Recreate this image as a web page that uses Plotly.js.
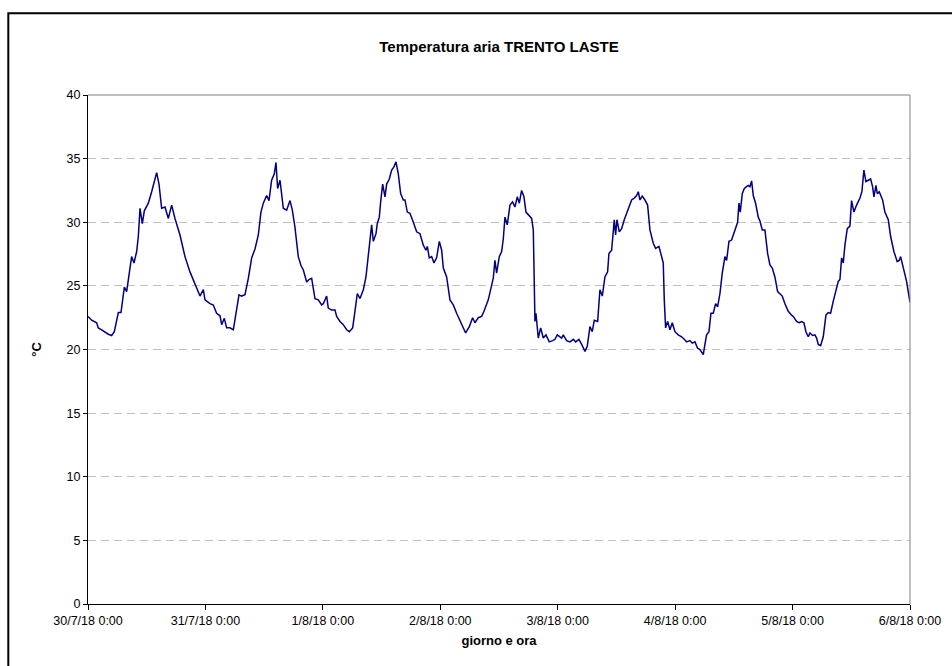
<!DOCTYPE html>
<html>
<head>
<meta charset="utf-8">
<script src="https://cdn.plot.ly/plotly-3.0.1.min.js"></script>
<style>
  html, body { margin: 0; padding: 0; background: #ffffff; }
  #chart { width: 952px; height: 666px; }
</style>
</head>
<body>
<div id="chart"></div>
<script>
// ---- data ----
const startDate = '2018-07-30T00:00:00Z';
const hoursFromStart = [
  0, 0.75, 1.77, 2.11, 2.79, 3.47, 4.16, 4.84, 5.38, 6.2, 6.74, 7.43, 7.9, 8.92, 9.4, 9.95,
  10.29, 10.63, 11.1, 11.51, 12.33, 13.01, 13.56, 14.03, 14.51, 15.05, 15.74, 16.42, 17.1, 17.78,
  18.8, 19.82, 20.84, 21.87, 22.89, 23.57, 23.91, 24.93, 25.61, 26.29, 26.98, 27.32, 27.86, 28.34,
  29.02, 29.7, 30.38, 30.86, 31.4, 32.08, 32.77, 33.45, 34.13, 34.81, 35.35, 35.83, 36.51, 36.99,
  37.53, 38.08, 38.42, 38.76, 39.24, 39.92, 40.6, 41.28, 41.76, 42.3, 42.98, 43.53, 44.01, 44.69,
  45.17, 45.71, 46.39, 47.07, 47.75, 48.09, 48.77, 49.11, 49.8, 50.48, 50.82, 51.5, 52.18, 52.86,
  53.41, 54.09, 54.56, 55.04, 55.59, 56.27, 56.81, 57.29, 57.77, 57.97, 58.31, 58.86, 59.13, 59.54,
  59.81, 60.22, 60.7, 61.04, 61.58, 62.06, 62.53, 62.94, 63.42, 63.9, 64.44, 64.78, 65.26, 65.8,
  66.49, 67.17, 67.85, 68.53, 69.07, 69.35, 69.75, 70.23, 70.71, 71.25, 71.8, 72.28, 72.62, 73.3,
  73.98, 74.66, 75.34, 76.02, 76.7, 77.18, 77.93, 78.61, 79.09, 79.77, 80.45, 80.93, 81.81, 82.29,
  82.83, 83.17, 83.51, 84.06, 84.54, 84.88, 85.22, 85.69, 86.24, 86.78, 87.26, 87.74, 88.15, 88.62,
  89.1, 89.51, 90.19, 90.67, 91.01, 91.21, 91.35, 91.55, 91.83, 92.03, 92.51, 93.05, 93.6, 94.28,
  94.96, 95.44, 95.91, 96.8, 97.14, 97.82, 98.5, 99.18, 99.66, 100.34, 100.89, 101.57, 102.04,
  102.59, 103.06, 103.47, 104.16, 104.63, 105.11, 105.65, 106.2, 106.47, 107.02, 107.56, 107.83,
  108.11, 108.58, 109.06, 109.6, 110.08, 110.56, 111.1, 111.65, 112.13, 112.47, 112.81, 113.28,
  113.83, 114.37, 114.85, 115.53, 116.01, 116.69, 117.23, 117.57, 117.78, 118.05, 118.46, 118.94,
  119.41, 119.96, 120.64, 121.32, 121.87, 122.34, 123.02, 123.5, 124.05, 124.59, 125.07, 125.75,
  126.09, 126.43, 126.91, 127.32, 127.79, 128.27, 128.68, 129.16, 129.63, 130.18, 130.52, 131.0,
  131.54, 132.22, 132.77, 133.04, 133.31, 133.72, 134.13, 134.6, 134.95, 135.29, 135.63, 135.97,
  136.44, 136.99, 137.33, 137.81, 138.35, 138.9, 139.37, 139.85, 140.39, 140.94, 141.42, 141.89,
  142.44, 143.12, 143.8, 144.14, 144.82, 145.37, 145.84, 146.32, 146.73, 147.21, 147.55, 148.09,
  148.57, 148.91, 149.25, 149.73, 150.27, 150.82, 151.29, 151.77, 152.32, 152.86, 153.34, 153.68,
  154.02, 154.36, 154.7, 155.18, 155.72, 156.06, 156.54, 157.08, 157.77, 158.17, 158.58, 158.99,
  159.47, 159.95, 160.35, 160.63, 161.04, 161.31, 161.72, 162.4, 162.87, 163.56, 164.03, 164.71,
  165.39, 165.8, 166.08, 166.62, 167.3, 168.0
];
const temperatureC = [
  22.6, 22.3, 22.1, 21.7, 21.55, 21.35, 21.2, 21.1, 21.4, 22.9, 22.9, 24.9, 24.55, 27.3, 26.8, 27.7,
  28.9, 31.1, 29.9, 30.9, 31.5, 32.4, 33.2, 33.9, 33.0, 31.1, 31.2, 30.3, 31.35, 30.3,
  29.0, 27.3, 26.1, 25.1, 24.2, 24.7, 23.9, 23.6, 23.5, 22.85, 22.65, 21.95, 22.45, 21.7,
  21.7, 21.55, 23.1, 24.3, 24.2, 24.3, 25.6, 27.2, 27.9, 29.0, 30.8, 31.5, 32.1, 31.7,
  33.3, 33.8, 34.7, 32.65, 33.3, 31.1, 30.95, 31.7, 30.95, 29.6, 27.3, 26.6, 26.25, 25.3,
  25.5, 25.6, 24.0, 23.9, 23.5, 23.6, 24.2, 23.25, 23.1, 23.1, 22.6, 22.2, 21.95, 21.55,
  21.4, 21.7, 23.0, 24.4, 24.0, 24.7, 25.7, 27.55, 28.9, 29.8, 28.5, 29.1, 29.9, 30.4,
  31.6, 33.0, 32.0, 33.0, 33.4, 34.1, 34.35, 34.75, 33.8, 32.25, 31.75, 31.75, 30.8, 30.7,
  30.0, 29.25, 29.1, 28.2, 27.8, 28.1, 27.2, 27.3, 26.8, 27.2, 28.5, 27.8, 26.4, 25.7,
  23.9, 23.5, 22.85, 22.3, 21.7, 21.3, 21.8, 22.5, 22.1, 22.5, 22.6, 23.0, 23.9, 24.7,
  25.6, 27.0, 26.0, 27.3, 27.7, 28.7, 30.4, 29.8, 31.35, 31.6, 31.2, 32.0, 31.5, 32.5,
  32.0, 30.8, 30.55, 30.3, 29.4, 25.2, 22.2, 22.85, 21.55, 20.9, 21.7, 20.9, 21.15, 20.6,
  20.7, 20.8, 21.15, 20.9, 21.15, 20.7, 20.6, 20.8, 20.6, 20.8, 20.4, 19.85, 20.25,
  21.8, 21.4, 22.3, 22.2, 24.7, 24.2, 25.7, 26.1, 27.55, 27.8, 30.2, 29.0,
  30.2, 29.25, 29.5, 30.2, 30.7, 31.35, 31.75, 31.9, 32.1, 32.4, 31.75, 32.05,
  31.75, 31.35, 29.4, 28.35, 27.95, 28.1, 27.3, 26.8, 23.9, 21.7, 22.2, 21.55,
  22.1, 21.4, 21.15, 21.0, 20.8, 20.6, 20.7, 20.5, 20.6, 20.1, 20.0, 19.6,
  20.4, 21.15, 21.4, 22.85, 22.85, 23.6, 23.35, 24.4, 26.0, 27.3, 27.0, 28.5,
  28.6, 29.4, 30.0, 31.5, 30.8, 32.25, 32.65, 32.8, 32.9, 32.8, 33.25, 32.1,
  31.5, 30.4, 30.1, 29.4, 29.4, 27.55, 26.65, 26.4, 25.7, 24.55, 24.4, 24.2,
  23.6, 23.0, 22.7, 22.6, 22.2, 22.1, 22.2, 22.1, 21.4, 21.0, 21.3, 21.1,
  21.15, 20.9, 20.4, 20.3, 21.0, 22.7, 22.9, 22.85, 23.8, 24.7, 25.35, 25.5,
  27.2, 26.8, 28.2, 29.5, 29.7, 31.7, 30.8, 31.35, 31.9, 32.4, 34.1, 33.2,
  33.3, 33.4, 32.8, 32.0, 32.9, 32.25, 32.4, 31.75, 30.8, 30.2, 28.9, 27.7,
  26.9, 27.0, 27.3, 26.4, 25.35, 23.7
];
const dayTicks = ['2018-07-30', '2018-07-31', '2018-08-01', '2018-08-02', '2018-08-03', '2018-08-04', '2018-08-05', '2018-08-06'];
const dayLabels = ['30/7/18 0:00', '31/7/18 0:00', '1/8/18 0:00', '2/8/18 0:00', '3/8/18 0:00', '4/8/18 0:00', '5/8/18 0:00', '6/8/18 0:00'];
const yTicks = [0, 5, 10, 15, 20, 25, 30, 35, 40];

// ---- build time stamps ----
const t0 = Date.parse(startDate);
const times = hoursFromStart.map(h => {
  const d = new Date(t0 + Math.round(h * 3600000));
  return d.toISOString().slice(0, 19).replace('T', ' ');
});

const FONT = '"Liberation Sans", Arial, sans-serif';

const trace = {
  type: 'scatter',
  mode: 'lines',
  x: times,
  y: temperatureC,
  line: { color: '#000080', width: 1.5 },
  hoverinfo: 'x+y'
};

const layout = {
  width: 952,
  height: 666,
  margin: { l: 88, r: 42, t: 95, b: 62, pad: 0 },
  paper_bgcolor: '#ffffff',
  plot_bgcolor: '#ffffff',
  showlegend: false,
  font: { family: FONT, color: '#000000', size: 12 },
  title: {
    text: '<b>Temperatura aria TRENTO LASTE</b>',
    font: { family: FONT, size: 15, color: '#000000' },
    x: 0.5, xref: 'paper', xanchor: 'center',
    y: 1 - 47 / 666, yref: 'container', yanchor: 'middle'
  },
  xaxis: {
    type: 'date',
    range: [dayTicks[0], dayTicks[dayTicks.length - 1]],
    tickmode: 'array',
    tickvals: dayTicks,
    ticktext: dayLabels,
    ticks: 'outside', ticklen: 5, tickwidth: 1, tickcolor: '#000000',
    showline: true, linecolor: '#000000', linewidth: 1,
    showgrid: false, zeroline: false,
    tickfont: { family: FONT, size: 12.5, color: '#000000' },
    title: { text: '<b>giorno e ora</b>', font: { family: FONT, size: 13, color: '#000000' }, standoff: 8 },
    automargin: false,
    fixedrange: true
  },
  yaxis: {
    range: [0, 40],
    tickmode: 'array',
    tickvals: yTicks,
    ticks: 'outside', ticklen: 4, tickwidth: 1, tickcolor: '#000000',
    showline: true, linecolor: '#000000', linewidth: 1,
    showgrid: true, gridcolor: '#c0c0c0', gridwidth: 1, griddash: '8px,5px',
    zeroline: false,
    tickfont: { family: FONT, size: 12.5, color: '#000000' },
    title: { text: '<b>°C</b>', font: { family: FONT, size: 13, color: '#000000' }, standoff: 22 },
    automargin: false,
    fixedrange: true
  },
  shapes: [
    // gray top and right border of the plot area
    { type: 'line', xref: 'paper', yref: 'paper', x0: 0, x1: 1, y0: 1, y1: 1, line: { color: '#808080', width: 1 } },
    { type: 'line', xref: 'paper', yref: 'paper', x0: 1, x1: 1, y0: 0, y1: 1, line: { color: '#808080', width: 1 } },
    // outer chart frame
    { type: 'rect', xref: 'paper', yref: 'paper',
      x0: (8.3 - 88) / 822, x1: (965 - 88) / 822, y0: (604 - 680) / 509, y1: (604 - 13.3) / 509,
      line: { color: '#000000', width: 2 }, fillcolor: 'rgba(0,0,0,0)', layer: 'above' }
  ]
};

Plotly.newPlot('chart', [trace], layout, { staticPlot: true, displayModeBar: false });
</script>
</body>
</html>
